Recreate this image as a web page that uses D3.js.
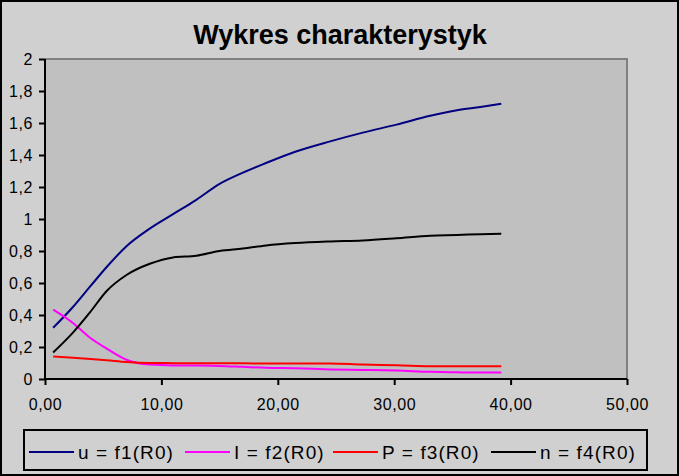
<!DOCTYPE html>
<html><head><meta charset="utf-8">
<script src="https://cdn.jsdelivr.net/npm/d3@7"></script>
<style>body{margin:0;background:#d0d0d0;}svg{display:block;font-family:"Liberation Sans",Arial,sans-serif;}</style>
</head><body>
<svg id="c" width="679" height="476"></svg>
<script>
const title = "Wykres charakterystyk";
const xValues = [0.7, 2.4, 3.9, 5.3, 7.0, 9.0, 11.0, 13.0, 15.0, 17.0, 19.0, 21.5, 24.5, 27.3, 30.2, 33.1, 35.4, 37.4, 39.2];
const uValues = [0.32, 0.45, 0.58, 0.70, 0.83, 0.94, 1.03, 1.12, 1.22, 1.29, 1.35, 1.42, 1.485, 1.54, 1.59, 1.645, 1.68, 1.70, 1.72];
const iValues = [0.433, 0.35, 0.256, 0.19, 0.12, 0.09, 0.085, 0.085, 0.082, 0.076, 0.07, 0.067, 0.06, 0.057, 0.053, 0.045, 0.042, 0.04, 0.04];
const pValues = [0.141, 0.133, 0.125, 0.117, 0.106, 0.1, 0.099, 0.098, 0.098, 0.098, 0.097, 0.097, 0.097, 0.09, 0.086, 0.08, 0.079, 0.079, 0.079];
const nValues = [0.166, 0.29, 0.42, 0.55, 0.65, 0.72, 0.76, 0.77, 0.80, 0.815, 0.835, 0.85, 0.86, 0.866, 0.88, 0.896, 0.90, 0.905, 0.908];
const seriesNames = ["u = f1(R0)", "I = f2(R0)", "P = f3(R0)", "n = f4(R0)"];
const seriesColors = ["#000080", "#ff00ff", "#ff0000", "#000000"];
const xTicks = [0, 10, 20, 30, 40, 50];
const yTicks = [0, 0.2, 0.4, 0.6, 0.8, 1, 1.2, 1.4, 1.6, 1.8, 2];

(function(){
const series = [uValues, iValues, pValues, nValues];
const svg = d3.select("#c");
const W = 679, H = 476;
const pL = 45, pR = 627, pT = 59, pB = 379;

svg.append("rect").attr("x",1).attr("y",1).attr("width",W-2).attr("height",H-2)
  .attr("fill","#d0d0d0").attr("stroke","#000").attr("stroke-width",2);

const x = d3.scaleLinear().domain([0,50]).range([pL,pR]);
const y = d3.scaleLinear().domain([0,2]).range([pB,pT]);

svg.append("rect").attr("x",pL).attr("y",pT).attr("width",pR-pL).attr("height",pB-pT)
  .attr("fill","#c0c0c0");
svg.append("path").attr("d",`M${pL},${pT}H${pR}V${pB}`).attr("fill","none")
  .attr("stroke","#808080").attr("stroke-width",2);

svg.append("text").attr("x",340).attr("y",44).attr("text-anchor","middle")
  .attr("font-size",27).attr("font-weight","bold").attr("fill","#000").text(title);

const fmt = v => d3.format(".2f")(v).replace(".", ",");
const fmtY = v => String(+v.toFixed(1)).replace(".", ",");

const xAxis = svg.append("g").attr("transform",`translate(0,${pB})`)
  .call(d3.axisBottom(x).tickValues(xTicks).tickFormat(fmt).tickSize(6).tickPadding(14));
const yAxis = svg.append("g").attr("transform",`translate(${pL},0)`)
  .call(d3.axisLeft(y).tickValues(yTicks).tickFormat(fmtY).tickSize(6).tickPadding(6));
[xAxis,yAxis].forEach(a=>{
  a.select(".domain").attr("stroke","#000").attr("stroke-width",2);
  a.selectAll(".tick line").attr("stroke","#000").attr("stroke-width",2);
  a.selectAll(".tick text").attr("font-size",16).attr("fill","#000")
    .attr("letter-spacing","0.6px")
    .attr("font-family","'Liberation Sans',Arial,sans-serif");
});
xAxis.select(".domain").attr("d",`M${pL},0H${pR}`);
yAxis.select(".domain").attr("d",`M0,${pB}V${pT}`);

const line = d3.line().x((d,i)=>x(xValues[i])).y(d=>y(d)).curve(d3.curveMonotoneX);
series.forEach((s,k)=>{
  svg.append("path").datum(s).attr("d",line).attr("fill","none")
    .attr("stroke",seriesColors[k]).attr("stroke-width",2);
});

svg.append("rect").attr("x",24).attr("y",430).attr("width",623).attr("height",40)
  .attr("fill","#d0d0d0").attr("stroke","#000").attr("stroke-width",2);
const legX = [29, 185, 333, 491];
seriesNames.forEach((nm,k)=>{
  svg.append("line").attr("x1",legX[k]).attr("x2",legX[k]+45).attr("y1",452).attr("y2",452)
    .attr("stroke",seriesColors[k]).attr("stroke-width",2);
  svg.append("text").attr("x",legX[k]+49).attr("y",459).attr("font-size",19)
    .attr("letter-spacing","1.1px").attr("fill","#000").text(nm);
});
})();
</script>
</body></html>
